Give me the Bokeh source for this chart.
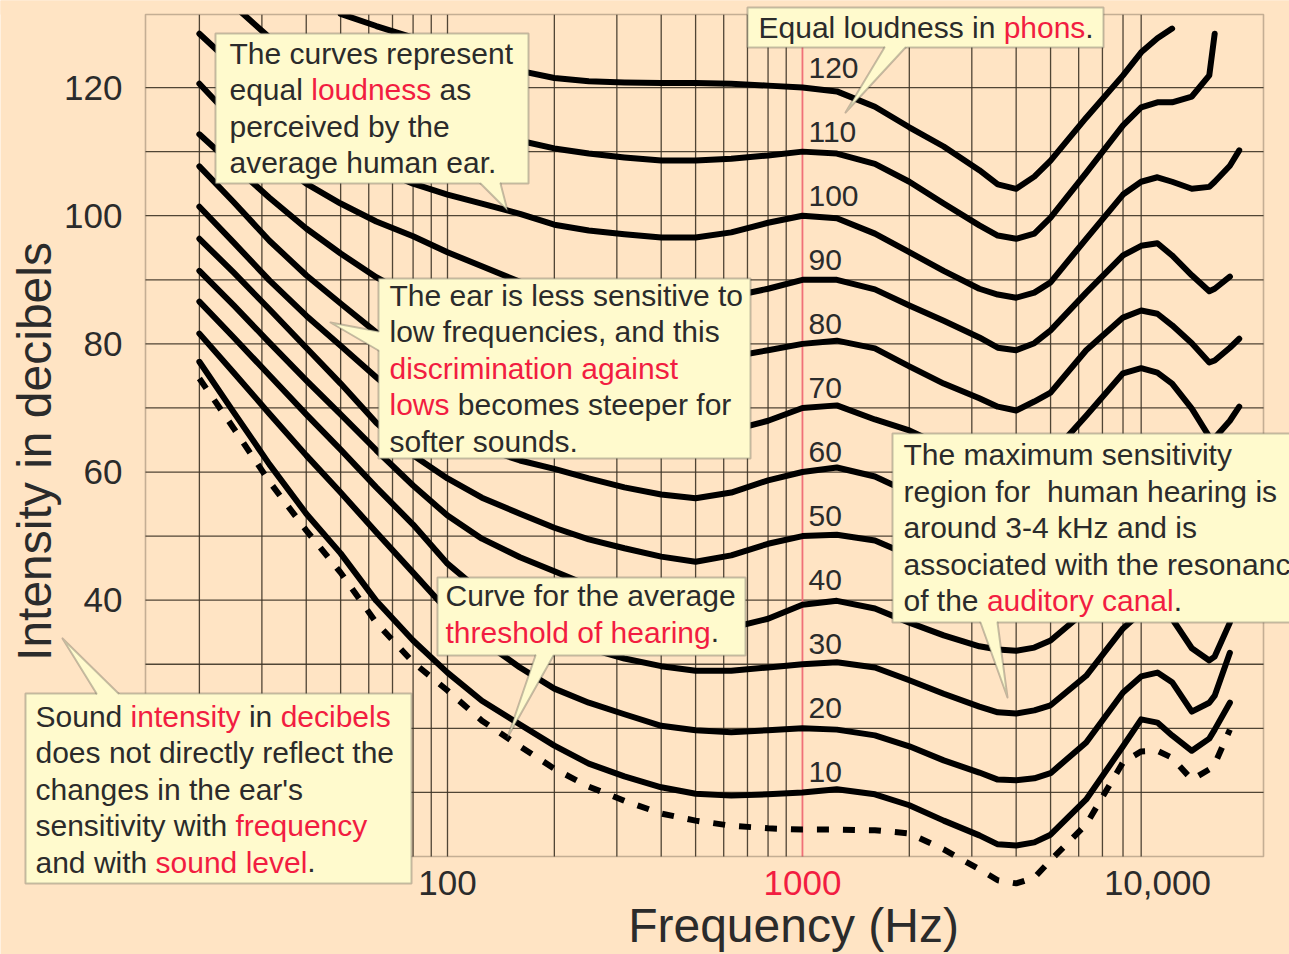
import math
from bokeh.plotting import figure
from bokeh.models import (Range1d, FixedTicker, NumeralTickFormatter, BoxAnnotation,
                          PolyAnnotation, Label, LogAxis)
from bokeh.core.properties import value
from bokeh.embed import file_html
from bokeh.resources import INLINE

nan = float("nan")

# ---------------- data ----------------
FREQ = [20, 25, 31.5, 40, 50, 63, 80, 100, 125, 160,
        200, 250, 315, 400, 500, 630, 800, 1000, 1250, 1600,
        2000, 2500, 3150, 3550, 4000, 4500, 5000, 6300, 8000, 9000, 10000, 11000,
        12500, 14000, 14500, 16000, 17000]

PHON_LEVELS = [120, 110, 100, 90, 80, 70, 60, 50, 40, 30, 20, 10]

# the two loudest curves enter the chart through its top edge
PHON_120 = [nan, nan, nan, nan, 131.5, 129.6, 127.8, 126.1, 124.5, 122.6,
            121.5, 121.0, 120.8, 120.7, 120.7, 120.6, 120.3, 120.0, 119.4, 117.0,
            113.8, 110.8, 107.1, 104.9, 104.2, 106.1, 108.6, 115.3, 121.9, 125.5, 127.7, 129.2,
            nan, nan, nan, nan, nan]
PHON_110 = [nan, 132.8, 127.8, 123.9, 120.8, 118.3, 116.1, 114.5, 113.1, 111.7,
            110.5, 109.7, 109.1, 108.6, 108.6, 108.9, 109.4, 110.0, 109.7, 108.1,
            105.3, 101.9, 98.5, 96.9, 96.4, 97.2, 99.7, 106.7, 114.1, 116.9, 117.7, 117.7,
            118.6, 121.9, 128.4, nan, nan]
PHON_100 = [128.4, 123.4, 118.6, 114.2, 110.5, 107.4, 105.0, 103.3, 101.9, 100.3,
            98.6, 97.7, 97.1, 96.6, 96.6, 97.4, 98.9, 100.0, 99.6, 97.2,
            94.3, 91.4, 88.6, 87.7, 87.2, 88.0, 89.6, 96.4, 103.3, 105.3, 106.0, 105.3,
            104.2, 104.5, 105.3, 107.8, 110.2]
PHON_90 = [120.6, 114.9, 109.4, 105.0, 101.9, 99.1, 96.8, 94.3, 92.1, 89.7,
           88.3, 87.4, 86.8, 86.6, 86.8, 87.4, 88.6, 90.0, 90.0, 88.5,
           86.0, 83.6, 81.0, 79.4, 79.0, 80.1, 82.1, 88.0, 93.8, 95.3, 95.7, 93.8,
           90.7, 88.2, 88.6, 90.5, nan]
PHON_80 = [112.7, 107.8, 102.8, 98.0, 94.1, 90.4, 87.2, 84.7, 82.9, 81.3,
           80.2, 79.3, 78.7, 78.2, 77.9, 78.0, 79.0, 80.0, 80.5, 79.3,
           76.5, 73.8, 71.5, 70.2, 69.6, 71.0, 72.4, 79.0, 84.1, 85.2, 84.7, 82.9,
           80.1, 77.1, 77.4, 79.4, 80.8]
PHON_70 = [107.7, 102.1, 96.1, 90.7, 86.3, 81.8, 77.7, 74.6, 72.3, 70.4,
           69.1, 68.0, 67.1, 66.5, 66.2, 66.5, 68.0, 70.0, 70.4, 68.2,
           66.5, 64.0, 61.8, 60.9, 60.5, 61.3, 62.6, 68.8, 75.4, 76.2, 75.5, 73.8,
           69.9, 65.5, 65.3, 68.0, 70.2]
PHON_60 = [101.4, 95.8, 89.9, 84.4, 79.7, 74.8, 69.9, 66.5, 63.8, 61.8,
           60.5, 59.0, 57.6, 56.5, 55.9, 56.8, 58.7, 60.0, 60.7, 59.3,
           56.8, 54.5, 52.4, 51.5, 51.2, 52.0, 53.2, 58.4, 64.1, 65.5, 65.2, 63.7,
           60.2, 57.1, 56.8, 59.0, nan]
PHON_50 = [96.4, 91.1, 85.4, 79.4, 73.8, 67.7, 62.6, 59.0, 56.0, 53.5,
           51.3, 49.5, 48.1, 46.8, 46.0, 47.0, 48.8, 50.0, 50.2, 49.3,
           47.0, 44.6, 42.6, 41.8, 41.5, 42.1, 43.4, 48.5, 54.8, 56.3, 56.0, 54.5,
           51.2, 48.1, 47.8, 49.6, nan]
PHON_40 = [91.4, 86.0, 80.2, 74.3, 69.0, 63.4, 57.9, 53.2, 49.6, 46.7,
           44.5, 42.3, 40.0, 37.8, 36.2, 35.7, 37.1, 39.3, 39.9, 38.7,
           36.5, 34.5, 32.8, 32.3, 32.1, 32.6, 33.7, 38.4, 45.4, 47.8, 48.1, 46.5,
           42.3, 39.2, 38.9, 41.2, nan]
PHON_30 = [86.6, 81.0, 75.1, 69.0, 63.5, 57.6, 51.8, 45.7, 41.2, 37.3,
           34.5, 32.5, 30.9, 29.7, 29.0, 29.0, 29.5, 30.0, 30.3, 29.5,
           27.5, 25.4, 23.4, 22.5, 22.3, 22.8, 23.6, 28.2, 35.6, 38.1, 38.7, 37.1,
           32.5, 30.6, 31.2, 36.5, nan]
PHON_20 = [81.6, 75.5, 69.1, 62.6, 56.8, 50.6, 44.3, 38.4, 33.7, 29.5,
           26.2, 24.0, 22.2, 20.4, 19.7, 19.4, 19.7, 20.0, 19.8, 18.9,
           17.2, 15.0, 13.1, 12.0, 11.9, 12.2, 13.0, 17.8, 25.6, 28.1, 28.7, 27.2,
           22.6, 24.0, 25.1, 31.8, nan]
PHON_10 = [77.2, 69.3, 61.2, 53.5, 47.3, 39.9, 33.7, 28.7, 24.3, 20.6,
           17.3, 14.5, 12.5, 10.8, 9.8, 9.5, 9.7, 10.0, 10.5, 9.7,
           8.0, 5.6, 3.3, 1.9, 1.7, 2.2, 3.4, 8.9, 17.2, 21.4, 20.9, 18.9,
           16.5, 18.4, 19.8, 24.0, nan]
THRESHOLD = [74.6, 66.8, 58.5, 50.9, 44.3, 36.5, 30.3, 25.9, 21.2, 17.2,
             13.7, 10.9, 8.7, 6.7, 5.6, 4.8, 4.4, 4.2, 4.2, 4.1,
             3.6, 1.1, -2.0, -3.7, -4.2, -3.3, -0.6, 5.0, 14.7, 16.4, 16.5, 15.4,
             12.0, 13.6, 14.4, 19.8, nan]

PHON_CURVES = [PHON_120, PHON_110, PHON_100, PHON_90, PHON_80, PHON_70,
               PHON_60, PHON_50, PHON_40, PHON_30, PHON_20, PHON_10]

GRID_FREQ = [20, 30, 40, 50, 60, 70, 80, 90, 100,
             200, 300, 400, 500, 600, 700, 800, 900,
             2000, 3000, 4000, 5000, 6000, 7000, 8000, 9000]
REF_FREQ = 1000
GRID_DB = [10, 20, 30, 40, 50, 60, 70, 80, 90, 100, 110, 120]
Y_TICKS = [40, 60, 80, 100, 120]
X_TICKS = [100, 10000]
X_TICKS_RED = [1000]

# ---------------- layout / style ----------------
W, H = 1289, 954
F_LO, F_HI = 14.1, 19900.0          # chart box, left / right edge
DB_BOT, DB_TOP = 0.0, 131.4          # chart box, bottom / top edge
CHART_L, CHART_R, CHART_T, CHART_B = 145, 1263, 14, 856   # chart box in pixels
PX_PER_DEC = (CHART_R - CHART_L) / math.log10(F_HI / F_LO)
PX_PER_DB = (CHART_B - CHART_T) / (DB_TOP - DB_BOT)


def fx(px):
    """pixel column -> frequency (Hz)"""
    return F_LO * 10 ** ((px - CHART_L) / PX_PER_DEC)


def fy(py):
    """pixel row -> level (dB)"""
    return DB_TOP - (py - CHART_T) / PX_PER_DB


PEACH = "#FFE4C4"
BOX_FILL = "#FFFACD"
BOX_LINE = "#3A3A3A"
GRID = "#3D3326"
REFLINE = "#F07078"
INK = "#2B2B2B"
RED = "#F21D41"
FONT = "Liberation Sans"
TXT = 30

CHAR_W = {c: 556 for c in "abdeghnopqu0123456789"}
CHAR_W.update({"c": 500, "k": 500, "s": 500, "v": 500, "x": 500, "y": 500, "z": 500,
               "f": 278, "t": 278, "i": 222, "j": 222, "l": 222, "m": 833, "r": 333,
               "w": 722, " ": 278, ".": 278, ",": 278, "-": 333, "'": 191, "(": 333,
               ")": 333, "T": 611, "E": 667, "S": 667, "C": 722, "H": 722, "F": 611})


def tw(s, size):
    return sum(CHAR_W.get(ch, 556) for ch in s) * size / 1000.0


p = figure(width=W, height=H, x_axis_type="log", title=None,
           x_range=Range1d(fx(0), fx(W)), y_range=Range1d(fy(H), fy(0)),
           output_backend="svg", toolbar_location=None,
           min_border_left=0, min_border_right=0, min_border_top=0, min_border_bottom=0,
           background_fill_color=PEACH, border_fill_color=PEACH, outline_line_color=None)
p.xgrid.grid_line_color = None
p.ygrid.grid_line_color = None


def style_axis(ax, color=INK):
    ax.axis_line_color = None
    ax.major_tick_line_color = None
    ax.minor_tick_line_color = None
    ax.major_tick_out = 0
    ax.major_tick_in = 0
    ax.major_label_text_font = FONT
    ax.major_label_text_font_size = "35px"
    ax.major_label_text_color = color


xax = p.xaxis[0]
style_axis(xax)
xax.fixed_location = DB_BOT
xax.ticker = FixedTicker(ticks=X_TICKS)
xax.formatter = NumeralTickFormatter(format="0,0")
xax.major_label_standoff = 14
xax.bounds = (fx(2 * 793 - CHART_R), F_HI)   # centres the title where the picture has it
xax.axis_label = "Frequency (Hz)"
xax.axis_label_text_font = FONT
xax.axis_label_text_font_size = "48px"
xax.axis_label_text_font_style = "normal"
xax.axis_label_text_color = INK
xax.axis_label_standoff = 1

xax_red = LogAxis(ticker=FixedTicker(ticks=X_TICKS_RED),
                  formatter=NumeralTickFormatter(format="0"))
style_axis(xax_red, RED)
xax_red.fixed_location = DB_BOT
xax_red.major_label_standoff = 14
p.add_layout(xax_red, "below")

yax = p.yaxis[0]
style_axis(yax)
yax.fixed_location = F_LO
yax.ticker = FixedTicker(ticks=Y_TICKS)
yax.bounds = (-5.0, DB_TOP)
yax.major_label_standoff = 23
yax.axis_label = "Intensity in decibels"
yax.axis_label_text_font = FONT
yax.axis_label_text_font_size = "48px"
yax.axis_label_text_font_style = "normal"
yax.axis_label_text_color = INK
yax.axis_label_standoff = 0

# grid inside the chart box
p.segment(x0=F_LO, y0=GRID_DB, x1=F_HI, y1=GRID_DB,
          line_color=GRID, line_width=1.3, line_alpha=0.9)
p.segment(x0=GRID_FREQ, y0=DB_BOT, x1=GRID_FREQ, y1=DB_TOP,
          line_color=GRID, line_width=1.3, line_alpha=0.9)
p.segment(x0=[REF_FREQ], y0=DB_BOT, x1=[REF_FREQ], y1=DB_TOP,
          line_color=REFLINE, line_width=1.8)

for vals in PHON_CURVES:
    p.line(FREQ, vals, line_color="black", line_width=6,
           line_join="round", line_cap="round")
p.line(FREQ, THRESHOLD, line_color="black", line_width=6, line_dash="12 14")

# curves stop at the top edge of the chart box: mask everything above it
p.quad(left=fx(-60), right=fx(W + 60), bottom=DB_TOP, top=fy(-60),
       fill_color=PEACH, fill_alpha=1.0, line_color=None)

p.text(x=[REF_FREQ] * len(PHON_LEVELS), y=PHON_LEVELS,
       text=[str(v) for v in PHON_LEVELS],
       x_offset=6, y_offset=-20, text_font=value(FONT), text_font_size=value("30px"),
       text_color=INK, text_baseline="middle", text_align="left")

# chart box
p.add_layout(BoxAnnotation(left=F_LO, right=F_HI, bottom=DB_BOT, top=DB_TOP,
                           fill_color=None, line_color=GRID, line_width=1.6))

# callouts: box (l, t, r, b), pointer (base, tip, base), text left, first line centre
CALLOUTS = [
    dict(box=(215, 33, 528, 183), ptr=((480, 183), (507, 210), (500, 183)), edge="h",
         x=229, y=52.5,
         lines=[[("The curves represent", INK)],
                [("equal ", INK), ("loudness", RED), (" as", INK)],
                [("perceived by the", INK)],
                [("average human ear.", INK)]]),
    dict(box=(378, 278, 750, 458), ptr=((378, 331), (330, 322), (378, 350)), edge="v",
         x=389, y=294.5,
         lines=[[("The ear is less sensitive to", INK)],
                [("low frequencies, and this", INK)],
                [("discrimination against", RED)],
                [("lows", RED), (" becomes steeper for", INK)],
                [("softer sounds.", INK)]]),
    dict(box=(437, 577, 745, 655), ptr=((535, 655), (507, 737), (553, 655)), edge="h",
         x=445, y=595,
         lines=[[("Curve for the average", INK)],
                [("threshold of hearing", RED), (".", INK)]]),
    dict(box=(892, 433, 1300, 622), ptr=((980, 622), (1007, 697), (997, 622)), edge="h",
         x=903, y=454,
         lines=[[("The maximum sensitivity", INK)],
                [("region for", INK), ("  human hearing is", INK)],
                [("around 3-4 kHz and is", INK)],
                [("associated with the resonance", INK)],
                [("of the ", INK), ("auditory canal", RED), (".", INK)]]),
    dict(box=(25, 693, 411, 883), ptr=((96, 693), (62, 638), (118, 693)), edge="h",
         x=35, y=715.5,
         lines=[[("Sound ", INK), ("intensity", RED), (" in ", INK), ("decibels", RED)],
                [("does not directly reflect the", INK)],
                [("changes in the ear's", INK)],
                [("sensitivity with ", INK), ("frequency", RED)],
                [("and with ", INK), ("sound level", RED), (".", INK)]]),
    dict(box=(747, 7, 1103, 47), ptr=((884, 47), (845, 112), (905, 47)), edge="h",
         x=758, y=27,
         lines=[[("Equal loudness in ", INK), ("phons", RED), (".", INK)]]),
]
LINE_GAP = 36.5


def extend(b, tip, edge, d=4.0):
    vx, vy = b[0] - tip[0], b[1] - tip[1]
    n = abs(vy) if edge == "h" else abs(vx)
    k = d / n
    return (b[0] + vx * k, b[1] + vy * k)


for c in CALLOUTS:
    L, T, R, B = c["box"]
    p.add_layout(BoxAnnotation(left=fx(L), right=fx(R), top=fy(T), bottom=fy(B),
                               fill_color=BOX_FILL, fill_alpha=1.0,
                               line_color=BOX_LINE, line_width=2))
    b1, tip, b2 = c["ptr"]
    e1 = extend(b1, tip, c["edge"])
    e2 = extend(b2, tip, c["edge"])
    p.add_layout(PolyAnnotation(xs=[fx(e1[0]), fx(tip[0]), fx(e2[0])],
                                ys=[fy(e1[1]), fy(tip[1]), fy(e2[1])],
                                fill_color=BOX_FILL, fill_alpha=1.0, line_color=None))
    p.add_layout(PolyAnnotation(xs=[fx(b1[0]), fx(tip[0]), fx(b2[0]), fx(tip[0])],
                                ys=[fy(b1[1]), fy(tip[1]), fy(b2[1]), fy(tip[1])],
                                fill_color=None, line_color=BOX_LINE, line_width=2,
                                line_join="round"))
    for i, line in enumerate(c["lines"]):
        cx = c["x"]
        cy = c["y"] + i * LINE_GAP
        for seg, col in line:
            body = seg.lstrip(" ")
            cx += tw(seg[:len(seg) - len(body)], TXT)
            p.add_layout(Label(x=fx(cx), y=fy(cy), text=body.rstrip(" "), text_color=col,
                               text_font=FONT, text_font_size="%dpx" % TXT,
                               text_baseline="middle", text_align="left"))
            cx += tw(body, TXT)

open("out.html", "w").write(file_html(p, INLINE))
